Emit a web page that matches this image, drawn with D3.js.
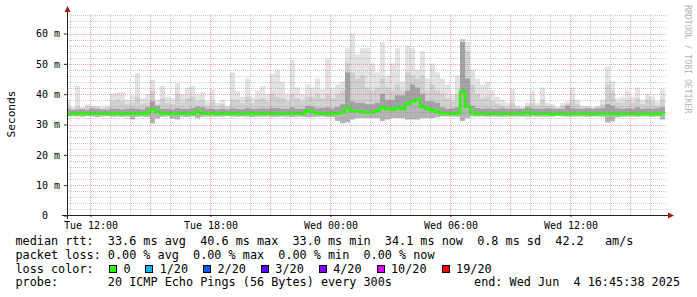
<!DOCTYPE html>
<html>
<head>
<meta charset="utf-8">
<script src="https://cdn.jsdelivr.net/npm/d3@7"></script>
<style>
html, body { margin: 0; padding: 0; background: #fff; }
svg { display: block; }
text { font-family: "DejaVu Sans Mono", monospace; }
.pre { white-space: pre; }
</style>
</head>
<body>
<svg id="chart" width="697" height="297"></svg>
<script>
///////// data (ms, one value per 15 min bin) //////////
const binStart = Date.UTC(2025, 5, 3, 10, 45, 0);
const binMinutes = 15;

const median = [
  33.4,33.3,33.4,33.5,33.3,33.4,33.6,33.4,33.3,33.4, 33.5,33.4,33.3,33.4,33.5,33.3,33.6,34.7,34.0,33.5, 33.4,33.3,33.6,33.4,33.5,33.4,34.0,33.6,33.4,33.5,
  33.3,33.4,33.3,33.5,33.4,33.3,33.4,33.5,33.3,33.4, 33.5,33.4,33.3,33.4,33.5,33.4,33.6,33.4,34.3,34.0, 33.5,33.4,33.3,33.5,33.4,33.8,35.2,34.3,34.2,34.0,
  33.8,33.8,34.3,35.4,35.0,34.7,35.4,35.0,36.5,37.4, 38.0,35.7,35.0,34.5,34.0,33.5,33.5,33.4,33.5,40.6, 35.7,33.8,33.3,33.4,33.3,33.4,33.3,33.3,33.4,33.3,
  33.3,33.4,33.8,33.4,33.3,33.4,33.3,33.2,33.3,33.4, 33.3,33.2,33.3,33.4,33.3,33.2,33.3,33.4,33.3,33.4, 33.3,33.2,33.3,33.4,33.3,33.3,33.4,33.2,33.3,33.6
];
const smokeLow = [
  32.5,32.6,32.5,32.4,32.6,32.5,32.3,32.5,32.6,32.4, 32.5,32.4,32.5,31.5,32.4,32.5,32.3,30.2,31.8,32.4, 32.5,31.8,31.5,32.4,32.3,32.5,32.0,32.4,32.5,32.4,
  32.5,32.4,32.6,32.5,32.4,32.5,32.4,32.3,32.5,32.4, 32.5,32.3,32.4,32.5,32.4,32.3,32.5,32.4,32.2,32.3, 32.4,32.5,32.3,32.2,31.0,30.2,30.5,31.5,32.0,32.0,
  32.0,32.0,32.0,31.0,31.5,32.0,32.0,32.0,31.5,31.5, 31.5,32.0,32.0,32.0,32.2,32.5,32.5,32.5,32.4,31.0, 32.0,32.5,32.5,32.5,32.4,32.5,32.5,32.4,32.5,32.5,
  32.5,32.5,32.4,32.5,32.5,32.4,32.5,32.5,32.6,32.5, 32.4,32.5,32.5,32.5,32.4,32.5,32.5,32.4,30.5,30.8, 32.2,32.4,32.5,32.5,32.4,32.5,32.5,32.4,32.5,31.5
];
const smokeDark = [
  35.0,34.6,34.8,34.9,34.7,35.2,35.0,34.8,34.7,35.0, 35.0,34.8,35.0,35.2,35.0,34.8,35.5,37.5,36.0,35.0, 35.0,34.8,35.3,35.0,35.0,35.3,35.8,35.5,35.0,35.0,
  34.8,35.0,34.8,35.2,35.0,34.9,35.3,35.0,35.0,35.2, 35.0,35.4,35.3,35.0,35.0,35.5,35.0,35.0,36.0,35.8, 35.2,35.3,35.5,35.2,35.6,36.5,47.0,37.5,37.0,37.0,
  36.5,36.5,37.0,40.0,38.0,38.0,39.5,39.5,41.0,43.0, 42.0,40.0,37.5,37.5,37.0,35.5,35.0,35.2,35.5,57.0, 45.0,36.0,35.3,35.0,35.2,35.0,35.0,35.2,35.0,35.0,
  35.0,35.0,35.5,35.2,35.0,35.0,35.2,35.0,35.0,35.0, 36.0,35.2,35.0,35.0,35.2,35.0,35.2,35.3,36.5,36.0, 35.2,35.0,35.2,35.0,35.5,35.0,35.2,35.0,35.2,35.5
];
const smokeMid = [
  36.5,35.2,35.8,35.3,35.8,35.8,35.6,35.3,35.5,37.5, 38.0,37.5,36.5,37.0,39.0,36.5,37.0,41.0,36.5,38.5, 37.0,36.5,40.0,37.0,38.5,39.0,37.5,38.0,36.0,37.5,
  36.0,36.5,35.5,38.0,38.0,37.0,39.0,37.0,38.0,38.5, 37.5,40.0,39.0,38.5,37.5,40.0,38.5,37.5,39.0,39.0, 40.0,38.5,40.0,38.5,40.0,41.0,50.0,47.0,45.0,46.0,
  42.0,41.0,42.0,45.0,42.0,41.0,43.0,41.0,47.0,46.0, 45.0,46.0,41.0,43.0,41.0,40.0,38.5,37.5,40.0,58.0, 54.0,43.0,40.0,38.5,39.0,37.5,36.5,36.0,35.5,37.0,
  35.5,35.2,36.0,37.0,36.0,38.0,36.0,35.8,35.3,36.0, 36.5,38.0,36.5,35.5,35.5,35.3,35.5,36.5,43.0,41.0, 37.0,37.0,38.0,37.0,38.5,36.5,38.0,37.5,36.0,38.0
];
const smokeHigh = [
  38.0,35.5,42.5,35.5,36.5,36.0,36.0,35.5,36.0,40.0, 40.5,40.5,38.0,39.5,46.8,38.5,40.0,44.5,38.0,42.5, 39.0,38.5,43.5,40.0,42.0,42.5,40.0,40.5,37.5,41.5,
  37.0,38.0,36.0,47.0,41.0,39.0,45.0,39.0,41.0,42.5, 40.0,46.5,48.0,44.0,40.0,51.0,42.0,40.0,43.0,42.0, 45.0,41.5,51.5,42.0,43.0,44.0,55.0,60.0,53.0,55.0,
  55.0,50.0,47.0,57.0,46.0,50.0,55.0,44.0,56.0,55.0, 48.0,54.0,45.0,50.0,47.0,45.0,43.0,40.0,46.0,58.0, 57.0,48.0,45.0,43.0,44.0,41.0,39.0,38.0,37.0,41.5,
  36.0,35.5,37.0,41.0,37.0,42.0,37.0,36.5,35.5,37.0, 37.5,42.0,38.0,36.0,36.0,35.5,36.0,38.0,49.0,44.0, 38.5,39.0,41.0,39.0,42.0,38.0,40.0,39.0,37.5,41.5
];

const yTickValues = [0, 10, 20, 30, 40, 50, 60];
const xTickLabels = ["Tue 12:00", "Tue 18:00", "Wed 00:00", "Wed 06:00", "Wed 12:00"];
const xTickTimes = [Date.UTC(2025,5,3,12), Date.UTC(2025,5,3,18), Date.UTC(2025,5,4,0), Date.UTC(2025,5,4,6), Date.UTC(2025,5,4,12)];

const rttStats = ["33.6 ms avg", "40.6 ms max", "33.0 ms min", "34.1 ms now", "0.8 ms sd", "42.2   am/s"];
const lossStats = ["0.00 % avg", "0.00 % max", "0.00 % min", "0.00 % now"];
const lossLabels = ["0", "1/20", "2/20", "3/20", "4/20", "10/20", "19/20"];
const lossColors = ["#26ff00", "#00b8ff", "#0059ff", "#5e00ff", "#7e00ff", "#dd00ff", "#ff0000"];
const probeText = "20 ICMP Echo Pings (56 Bytes) every 300s";
const endText = "end: Wed Jun  4 16:45:38 2025";

////////////////////// drawing //////////////////////
const tEnd = Date.UTC(2025, 5, 4, 16, 45, 38);
const tStart = tEnd - 30 * 3600e3;
const plotLeft = 67, plotRight = 667, plotTop = 13, plotBottom = 215;

const svg = d3.select("#chart");
const x = d3.scaleUtc().domain([new Date(tStart), new Date(tEnd)]).range([65.2, 665.2]);
const y = d3.scaleLinear().domain([0, 66.6]).range([plotBottom, plotTop]);

svg.append("defs").append("clipPath").attr("id", "plotclip")
  .append("rect").attr("x", plotLeft).attr("y", plotTop)
  .attr("width", plotRight - plotLeft).attr("height", plotBottom - plotTop);

// bins -> points (extra point closes the last step)
let pts = median.map((m, i) => ({
  t: new Date(binStart + i * binMinutes * 60e3), m: m,
  lo: smokeLow[i], dark: smokeDark[i], mid: smokeMid[i], hi: smokeHigh[i]
}));
pts.push(Object.assign({}, pts[pts.length - 1], {t: new Date(binStart + pts.length * binMinutes * 60e3)}));

let data_g = svg.append("g").attr("clip-path", "url(#plotclip)");
function band(lowKey, highKey, color) {
  let area = d3.area()
    .x(d => x(d.t))
    .y0(d => y(d[lowKey]))
    .y1(d => y(d[highKey]))
    .curve(d3.curveStepAfter);
  data_g.append("path").datum(pts).attr("d", area).attr("fill", color);
}
band("m", "hi", "#e3e3e3");
band("m", "mid", "#d0d0d0");
band("lo", "m", "#b4b4b4");
band("m", "dark", "#a2a2a2");

data_g.append("path").datum(pts)
  .attr("d", d3.line().x(d => x(d.t)).y(d => y(d.m)).curve(d3.curveStepAfter))
  .attr("fill", "none").attr("stroke", lossColors[0]).attr("stroke-width", 2.6);

// grid (drawn over the smoke, like rrdtool)
const hours = d3.utcHour.range(new Date(tStart), new Date(tEnd));
function gridX(values, color) {
  let g = svg.append("g").attr("transform", "translate(0.5," + plotBottom + ")")
    .call(d3.axisBottom(x).tickValues(values).tickSize(-(plotBottom - plotTop)).tickFormat(""));
  g.select(".domain").remove();
  g.selectAll("line").attr("stroke", color).attr("stroke-dasharray", "1,1").attr("shape-rendering", "crispEdges");
}
function gridY(values, color) {
  let g = svg.append("g").attr("transform", "translate(" + plotLeft + ",0.5)")
    .call(d3.axisLeft(y).tickValues(values).tickSize(-(plotRight - plotLeft)).tickFormat(""));
  g.select(".domain").remove();
  g.selectAll("line").attr("stroke", color).attr("stroke-dasharray", "1,1").attr("shape-rendering", "crispEdges");
}
gridX(hours.filter(d => d.getUTCHours() % 3 !== 0), "rgba(140,140,140,0.45)");
gridY(d3.range(2, 67, 2).filter(v => v % 10 !== 0), "rgba(140,140,140,0.45)");
gridX(hours.filter(d => d.getUTCHours() % 3 === 0), "rgba(230,80,80,0.5)");
gridY(yTickValues.filter(v => v > 0), "rgba(230,80,80,0.5)");

// axes with labels
let xa = svg.append("g").attr("transform", "translate(0.5," + plotBottom + ")")
  .call(d3.axisBottom(x).tickValues(xTickTimes.map(t => new Date(t)))
    .tickFormat((d, i) => xTickLabels[i]).tickSize(2).tickPadding(5));
xa.select(".domain").remove();
xa.selectAll("line").attr("stroke", "#333");
xa.selectAll("text").attr("font-family", "DejaVu Sans Mono").attr("font-size", "10px").attr("fill", "#000");

let ya = svg.append("g").attr("transform", "translate(" + plotLeft + ",0.5)")
  .call(d3.axisLeft(y).tickValues(yTickValues)
    .tickFormat(d => d === 0 ? "0\u00a0\u00a0" : d + "\u00a0m").tickSize(3).tickPadding(4));
ya.select(".domain").remove();
ya.selectAll("line").attr("stroke", "#333");
ya.selectAll("text").attr("font-family", "DejaVu Sans Mono").attr("font-size", "10px").attr("fill", "#000");

// axis lines + arrows
svg.append("line").attr("x1", 62).attr("x2", 670).attr("y1", plotBottom + 0.5).attr("y2", plotBottom + 0.5)
  .attr("stroke", "#222").attr("shape-rendering", "crispEdges");
svg.append("line").attr("x1", plotLeft + 0.5).attr("x2", plotLeft + 0.5).attr("y1", 219).attr("y2", 10)
  .attr("stroke", "#222").attr("shape-rendering", "crispEdges");
svg.append("path").attr("d", "M668,212.5 L674,215.5 L668,218.5 Z").attr("fill", "#a01818");
svg.append("path").attr("d", "M64.5,12 L67.5,6 L70.5,12 Z").attr("fill", "#a01818");

// unit + watermark
svg.append("text").attr("transform", "translate(15,114) rotate(-90)")
  .attr("text-anchor", "middle").attr("font-size", "11.2px").attr("fill", "#000").text("Seconds");
svg.append("text").attr("transform", "translate(685,5) rotate(90)")
  .attr("font-size", "8.2px").attr("fill", "#b4b4b4").text("RRDTOOL / TOBI OETIKER");

// legend
const legendFont = "11.8px";
function legendLine(str, xpos, ypos, anchor) {
  svg.append("text").attr("class", "pre").attr("x", xpos).attr("y", ypos)
    .attr("text-anchor", anchor || "start").attr("font-size", legendFont).attr("fill", "#000").text(str);
}
legendLine("median rtt:  " + rttStats.join("  "), 15.5, 245);
legendLine("packet loss: " + lossStats.join("  "), 15.5, 259);
legendLine("loss color:", 15.5, 272.5);
legendLine("probe:       " + probeText, 15.5, 286);
legendLine(endText, 680, 286, "end");

let boxX = 109;
lossLabels.forEach((lab, i) => {
  svg.append("rect").attr("x", boxX + 0.5).attr("y", 265.5).attr("width", 7).attr("height", 7)
    .attr("fill", lossColors[i]).attr("stroke", "#000").attr("shape-rendering", "crispEdges");
  legendLine(lab, boxX + 14.5, 272.5);
  boxX += (4 + lab.length) * 7.23;
});
</script>
</body>
</html>
